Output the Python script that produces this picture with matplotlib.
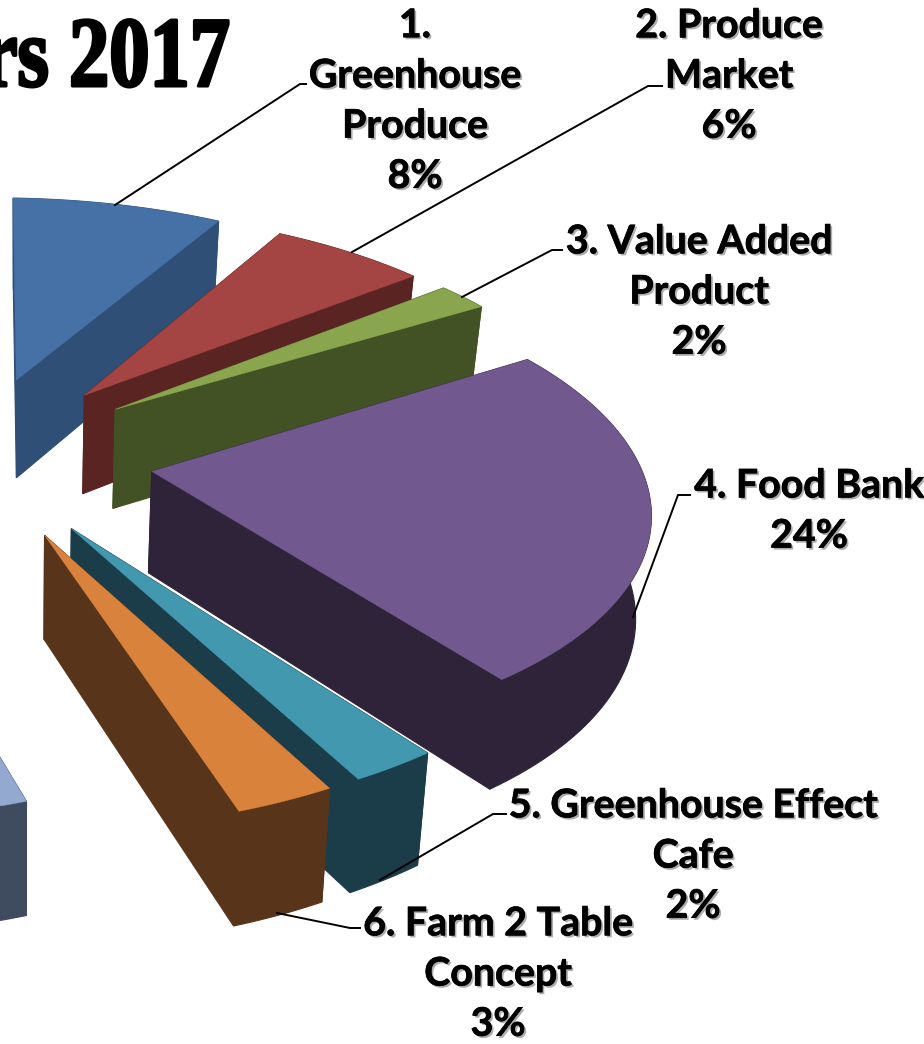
import numpy as np
import matplotlib
matplotlib.use("Agg")
import matplotlib.pyplot as plt
import matplotlib.patheffects as pe
from matplotlib.patches import Polygon
from matplotlib.transforms import Affine2D

names = ['1.\nGreenhouse\nProduce', '2. Produce\nMarket', '3. Value Added\nProduct', '4. Food Bank',
         '5. Greenhouse Effect\nCafe', '6. Farm 2 Table\nConcept']
shares = [8.0, 6.0, 2.0, 24.0, 2.4, 2.7, 29.5]   # last one is cut off by the crop, estimated
tops = ['#4571A7', '#A54543', '#89A54E', '#71588F', '#4198AF', '#D8823C', '#93A9CF']
sides = ['#2F4F76', '#5A2423', '#435224', '#2E2339', '#1B3D4A', '#58341A', '#3F4B5E']
title = 'rs 2017'

# label centre, and the leader line running from the slice to the label
label_xy = [(415, 101), (729, 76), (699, 292), (809, 511), (693, 856), (498, 974)]
leaders = [[(115, 205), (300, 84), (306, 84)],
           [(352, 252), (648, 86), (662, 86)],
           [(462, 297), (552, 250), (562, 250)],
           [(633, 617), (678, 495), (690, 495)],
           [(380, 880), (493, 814), (506, 814)],
           [(277, 913), (350, 928), (360, 928)]]

# pie plane to pixels (tilted camera), and how far slices are pulled out
H = np.array([[507.18334, -1.43494, -27.75298],
              [13.06453, -163.07969, 455.60878],
              [0.02590, 0.14339, 1.0]])
explode = 0.36


def u(deg):
    t = np.radians(deg)
    return np.array([np.sin(t), np.cos(t)])


def project(pts):
    pts = np.atleast_2d(pts)
    p = np.c_[pts, np.ones(len(pts))] @ H.T
    return p[:, :2] / p[:, 2:]


def drop(xy):
    # bottom of the slab, depth grows towards the viewer
    return xy + np.c_[-0.025 * (xy[:, 0] - 20), 83 + 0.039 * xy[:, 1]]


class TallText(pe.AbstractPathEffect):
    # heavy condensed poster look for the title
    def __init__(self, baseline, stretch, weight):
        super().__init__()
        self.baseline, self.stretch, self.weight = baseline, stretch, weight

    def draw_path(self, renderer, gc, tpath, affine, rgbFace=None):
        tall = affine + Affine2D().translate(0, -self.baseline).scale(1, self.stretch).translate(0, self.baseline)
        gc0 = renderer.new_gc()
        gc0.copy_properties(gc)
        gc0.set_linewidth(self.weight)
        gc0.set_foreground('black')
        renderer.draw_path(gc0, tpath, tall, rgbFace)
        gc0.restore()


fig = plt.figure(figsize=(9.24, 10.44), dpi=100)
ax = fig.add_axes([0, 0, 1, 1])
ax.set_xlim(0, 924)
ax.set_ylim(1044, 0)
ax.axis('off')

edges = np.cumsum([0] + shares) * 3.6
for i in range(len(shares)):
    a0, a1 = edges[i], edges[i + 1]
    apex = explode * u((a0 + a1) / 2)
    arc = np.array([apex + u(a) for a in np.linspace(a0, a1, 60)])
    t_apex, t_arc = project(apex), project(arc)
    b_apex, b_arc = drop(t_apex), drop(t_arc)
    for face in (np.vstack([t_apex, t_arc[:1], b_arc[:1], b_apex]),
                 np.vstack([t_apex, t_arc[-1:], b_arc[-1:], b_apex]),
                 np.vstack([t_arc, b_arc[::-1]])):
        ax.add_patch(Polygon(face, fc=sides[i], ec=sides[i], lw=0.8))
    ax.add_patch(Polygon(np.vstack([t_apex, t_arc]), fc=tops[i], ec=tops[i], lw=0.3))

shadow = [pe.SimplePatchShadow(offset=(1.5, -1.5), shadow_rgbFace='#777777', alpha=0.6),
          pe.withStroke(linewidth=0.5, foreground='black')]
for i, name in enumerate(names):
    xs, ys = zip(*leaders[i])
    ax.plot(xs, ys, color='black', lw=1.4, solid_joinstyle='miter')
    ax.text(label_xy[i][0], label_xy[i][1], '%s\n%d%%' % (name, round(shares[i])),
            ha='center', va='center', family='Lato', weight='bold', fontsize=28.3,
            linespacing=1.525, color='black', path_effects=shadow)

ax.text(230, 86, title, ha='right', va='baseline', family='Liberation Serif', weight='bold',
        fontsize=58, color='black', path_effects=[TallText(1044 - 86, 1.24, 2.2)])

fig.savefig('out.png', dpi=100)
